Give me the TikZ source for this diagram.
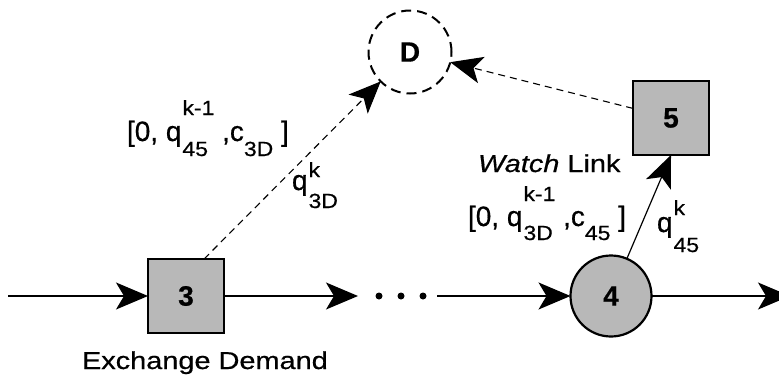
\documentclass[tikz,border=0pt]{standalone}
\usepackage{fontspec}
\setmainfont{Liberation Sans}[FakeBold=0.6]
\newfontfamily\widefont{Liberation Sans}[FakeStretch=1.18,FakeBold=0.6]
\newfontfamily\subfont{Liberation Sans}[FakeStretch=1.12,FakeBold=0.6]
\usetikzlibrary{arrows.meta,calc}
\newcommand\mainsz{\fontsize{28}{30}\selectfont}
\newcommand\subsz{\subfont\fontsize{20.5}{22}\selectfont}
% #1 raise of superscript, #2 lowering of subscript, #3 superscript, #4 subscript
\newcommand\qss[4]{\begingroup
  \setbox0\hbox{\subsz #3}\setbox2\hbox{\subsz #4}%
  \ifdim\wd0>\wd2 \dimen0=\wd0 \else \dimen0=\wd2 \fi
  \makebox[\dimen0][l]{\rlap{\raisebox{#1}{\box0}}\raisebox{-#2}{\box2}}\endgroup}
\begin{document}
\begin{tikzpicture}[x=1pt,y=-1pt,
  every node/.style={inner sep=0pt,outer sep=0pt},
  numfont/.style={font=\bfseries\fontsize{28}{30}\selectfont},
  box/.style={draw,line width=2.5pt,fill=black!28,minimum width=76pt,minimum height=74pt,numfont},
  ring/.style={circle,draw,line width=2.2pt,fill=black!28,minimum size=81pt,numfont},
  dest/.style={circle,draw,line width=2pt,dash pattern=on 10pt off 6pt,minimum size=83pt,numfont},
  tip/.style={-{Stealth[length=32pt,width=27pt,inset=8pt]}},
  flow/.style={line width=1.3pt,tip},
  dflow/.style={line width=1.1pt,dash pattern=on 7pt off 5pt,tip},
  lbl/.style={anchor=base west,font=\mainsz},
  txt/.style={anchor=base west,font=\widefont\fontsize{24.5}{28}\selectfont}]
\useasboundingbox (0,0) rectangle (779,381);

% nodes
\node[box]  (n3) at (186,296) {3};
\node[box]  (n5) at (671,118) {5};
\node[ring] (n4) at (611,296) {4};
\node[dest] (D)  at (410,52) {D};
\node[minimum width=79pt,minimum height=10pt] (dots) at (397.5,296) {};
\coordinate (in)  at (8,296);
\coordinate (out) at (790,296);

% dots
\foreach \x in {379,401,423} \fill (\x,296) circle (3.5pt);

% connectors
\draw[flow] (in) -- (n3);
\draw[flow] (n3) -- (dots);
\draw[flow] (dots) -- (n4);
\draw[flow] (n4) -- (out);
\draw[flow,line width=1.2pt] (n4) -- (n5.south);
\draw[dflow] (n3.64) -- (D);
\draw[dflow] (n5) -- (D);

% labels
\node[lbl] (la) at (127,141) {[0, q\kern1pt\qss{26pt}{15pt}{k-1}{45} ,c\qss{0pt}{15pt}{}{3D} ]};
\node[lbl] (lb) at (292,190) {q\kern1pt\qss{13pt}{18pt}{k}{3D}};
\node[txt] (wl) at (478,172) {\itshape Watch\/\upshape{} Link};
\node[lbl] (lc) at (468,226) {[0, q\kern1pt\qss{25pt}{14pt}{k-1}{3D} ,c\qss{0pt}{14pt}{}{45} ]};
\node[lbl] (ld) at (657,232) {q\kern1pt\qss{17pt}{20pt}{k}{45}};
\node[txt] (ed) at (82,369) {Exchange Demand};
\end{tikzpicture}
\end{document}
